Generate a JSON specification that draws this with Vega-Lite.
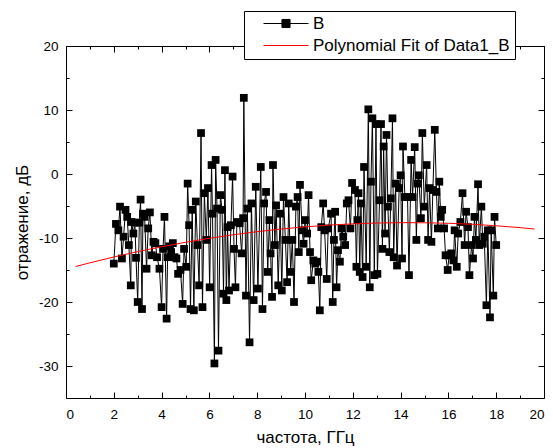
{
  "$schema": "https://vega.github.io/schema/vega-lite/v6.json",
  "width": 478,
  "height": 352,
  "autosize": "none",
  "padding": {"left": 66, "top": 46, "right": 9, "bottom": 50},
  "background": "white",
  "config": {
    "view": {"stroke": null},
    "font": "Liberation Sans",
    "axis": {
      "labelFont": "Liberation Sans", "labelFontSize": 13.5, "labelColor": "black",
      "titleFont": "Liberation Sans", "titleFontSize": 17, "titleFontWeight": "normal", "titleColor": "black",
      "domainColor": "black", "tickColor": "black", "grid": false, "tickWidth": 1, "domainWidth": 1
    }
  },
  "datasets": {
    "meas": [
      {"f":2.00,"r":-14.0},{"f":2.09,"r":-7.8},{"f":2.19,"r":-8.8},{"f":2.26,"r":-5.1},{"f":2.34,"r":-13.2},{"f":2.41,"r":-9.8},{"f":2.49,"r":-5.6},{"f":2.56,"r":-6.7},{"f":2.63,"r":-11.1},{"f":2.71,"r":-17.4},
      {"f":2.74,"r":-7.5},{"f":2.82,"r":-9.3},{"f":2.88,"r":-7.6},{"f":2.93,"r":-13.1},{"f":3.00,"r":-20.0},{"f":3.07,"r":-7.6},{"f":3.12,"r":-4.0},{"f":3.18,"r":-21.1},{"f":3.22,"r":-6.2},{"f":3.29,"r":-6.7},
      {"f":3.37,"r":-14.8},{"f":3.44,"r":-8.5},{"f":3.51,"r":-6.0},{"f":3.59,"r":-12.7},{"f":3.66,"r":-10.6},{"f":3.74,"r":-10.8},{"f":3.81,"r":-13.0},{"f":3.91,"r":-14.8},{"f":4.00,"r":-20.8},{"f":4.06,"r":-11.7},
      {"f":4.12,"r":-6.7},{"f":4.21,"r":-22.6},{"f":4.25,"r":-13.0},{"f":4.32,"r":-11.3},{"f":4.40,"r":-12.2},{"f":4.47,"r":-10.8},{"f":4.54,"r":-13.0},{"f":4.62,"r":-13.2},{"f":4.69,"r":-15.6},{"f":4.79,"r":-15.0},
      {"f":4.88,"r":-20.3},{"f":4.94,"r":-11.7},{"f":5.03,"r":-14.5},{"f":5.09,"r":-1.5},{"f":5.15,"r":-8.0},{"f":5.21,"r":-21.1},{"f":5.28,"r":-5.6},{"f":5.35,"r":-21.3},{"f":5.43,"r":-4.3},{"f":5.50,"r":-11.1},
      {"f":5.57,"r":-17.4},{"f":5.65,"r":6.4},{"f":5.71,"r":-20.8},{"f":5.79,"r":-3.0},{"f":5.87,"r":-10.3},{"f":5.94,"r":-2.2},{"f":6.01,"r":-17.7},{"f":6.09,"r":1.4},{"f":6.13,"r":-6.2},{"f":6.21,"r":-29.6},
      {"f":6.26,"r":2.2},{"f":6.32,"r":-5.4},{"f":6.38,"r":-27.6},{"f":6.46,"r":-3.3},{"f":6.53,"r":-5.6},{"f":6.59,"r":-18.7},{"f":6.65,"r":0.6},{"f":6.71,"r":-19.7},{"f":6.76,"r":-8.3},{"f":6.82,"r":-18.2},
      {"f":6.90,"r":-8.0},{"f":6.97,"r":-0.4},{"f":7.03,"r":-11.7},{"f":7.09,"r":-17.7},{"f":7.15,"r":-7.5},{"f":7.26,"r":-7.7},{"f":7.35,"r":-12.4},{"f":7.41,"r":-6.9},{"f":7.44,"r":11.9},{"f":7.53,"r":-19.0},
      {"f":7.59,"r":-5.4},{"f":7.68,"r":-26.3},{"f":7.76,"r":-4.6},{"f":7.85,"r":-19.7},{"f":7.94,"r":-2.0},{"f":8.03,"r":-17.9},{"f":8.15,"r":1.1},{"f":8.22,"r":-21.1},{"f":8.29,"r":-4.6},{"f":8.37,"r":-2.8},
      {"f":8.44,"r":-15.3},{"f":8.51,"r":-7.2},{"f":8.56,"r":-12.4},{"f":8.62,"r":-19.2},{"f":8.66,"r":1.4},{"f":8.74,"r":-11.1},{"f":8.79,"r":-4.9},{"f":8.88,"r":-17.4},{"f":8.96,"r":-6.2},{"f":9.03,"r":-18.2},
      {"f":9.10,"r":-3.6},{"f":9.18,"r":-10.3},{"f":9.25,"r":-16.9},{"f":9.32,"r":-4.6},{"f":9.40,"r":-15.3},{"f":9.47,"r":-10.3},{"f":9.54,"r":-20.0},{"f":9.62,"r":-5.1},{"f":9.69,"r":-3.6},{"f":9.74,"r":-12.2},
      {"f":9.79,"r":-1.7},{"f":9.88,"r":-8.8},{"f":9.94,"r":-10.9},{"f":10.00,"r":-7.2},{"f":10.09,"r":-9.3},{"f":10.15,"r":-3.3},{"f":10.21,"r":-12.2},{"f":10.26,"r":-16.6},{"f":10.35,"r":-13.5},{"f":10.43,"r":-14.0},
      {"f":10.50,"r":-13.7},{"f":10.56,"r":-15.3},{"f":10.62,"r":-21.3},{"f":10.68,"r":-8.3},{"f":10.76,"r":-4.6},{"f":10.82,"r":-8.8},{"f":10.91,"r":-16.4},{"f":10.97,"r":-8.5},{"f":11.09,"r":-6.2},{"f":11.16,"r":-20.0},
      {"f":11.21,"r":-10.3},{"f":11.26,"r":-5.9},{"f":11.32,"r":-17.7},{"f":11.38,"r":-11.9},{"f":11.46,"r":-13.7},{"f":11.53,"r":-8.5},{"f":11.60,"r":-9.8},{"f":11.68,"r":-11.1},{"f":11.75,"r":-4.6},{"f":11.82,"r":-4.1},
      {"f":11.90,"r":-8.5},{"f":11.97,"r":-1.4},{"f":12.09,"r":-2.5},{"f":12.15,"r":-14.5},{"f":12.19,"r":-7.2},{"f":12.24,"r":-3.0},{"f":12.29,"r":-15.3},{"f":12.34,"r":-4.6},{"f":12.41,"r":-16.1},{"f":12.47,"r":1.1},
      {"f":12.56,"r":-14.5},{"f":12.65,"r":10.1},{"f":12.71,"r":-17.7},{"f":12.76,"r":-1.2},{"f":12.82,"r":8.7},{"f":12.90,"r":-15.8},{"f":12.97,"r":7.8},{"f":13.03,"r":-15.6},{"f":13.12,"r":-4.1},{"f":13.18,"r":7.8},
      {"f":13.24,"r":-11.7},{"f":13.29,"r":4.3},{"f":13.35,"r":-9.3},{"f":13.41,"r":6.1},{"f":13.47,"r":-5.1},{"f":13.53,"r":-12.2},{"f":13.59,"r":-3.8},{"f":13.66,"r":8.7},{"f":13.71,"r":-13.0},{"f":13.79,"r":-1.5},
      {"f":13.85,"r":-14.3},{"f":13.94,"r":-2.2},{"f":14.00,"r":-0.2},{"f":14.06,"r":-13.2},{"f":14.10,"r":4.3},{"f":14.18,"r":-3.6},{"f":14.29,"r":-3.6},{"f":14.35,"r":-15.8},{"f":14.44,"r":2.2},{"f":14.50,"r":-3.6},
      {"f":14.59,"r":4.2},{"f":14.66,"r":-10.3},{"f":14.71,"r":-1.5},{"f":14.76,"r":-0.2},{"f":14.85,"r":-6.9},{"f":14.91,"r":6.4},{"f":14.99,"r":-5.1},{"f":15.09,"r":1.4},{"f":15.15,"r":-10.3},{"f":15.21,"r":-2.2},
      {"f":15.29,"r":-10.6},{"f":15.35,"r":-2.5},{"f":15.43,"r":6.9},{"f":15.50,"r":-2.8},{"f":15.56,"r":-8.5},{"f":15.62,"r":-1.2},{"f":15.68,"r":-6.7},{"f":15.74,"r":-5.6},{"f":15.82,"r":-8.5},{"f":15.88,"r":-12.7},
      {"f":15.97,"r":-15.0},{"f":16.03,"r":-12.7},{"f":16.12,"r":-12.4},{"f":16.21,"r":-13.5},{"f":16.26,"r":-8.8},{"f":16.35,"r":-14.5},{"f":16.41,"r":-9.3},{"f":16.50,"r":-7.5},{"f":16.59,"r":-3.0},{"f":16.68,"r":-11.1},
      {"f":16.74,"r":-5.9},{"f":16.82,"r":-8.3},{"f":16.88,"r":-15.8},{"f":16.97,"r":-11.1},{"f":17.03,"r":-13.2},{"f":17.09,"r":-6.7},{"f":17.15,"r":-10.3},{"f":17.24,"r":-1.6},{"f":17.29,"r":-11.1},{"f":17.38,"r":-5.1},
      {"f":17.44,"r":-10.9},{"f":17.50,"r":-9.8},{"f":17.59,"r":-20.5},{"f":17.65,"r":-8.8},{"f":17.74,"r":-22.4},{"f":17.79,"r":-8.8},{"f":17.88,"r":-19.0},{"f":17.93,"r":-6.7},{"f":18.00,"r":-11.1}
    ],
    "fit": [
      {"f":0.4,"r":-14.46},{"f":1,"r":-13.88},{"f":2,"r":-12.97},{"f":3,"r":-12.13},{"f":4,"r":-11.37},{"f":5,"r":-10.67},{"f":6,"r":-10.05},{"f":7,"r":-9.49},{"f":8,"r":-9.01},{"f":9,"r":-8.60},{"f":10,"r":-8.26},
      {"f":11,"r":-7.99},{"f":12,"r":-7.79},{"f":13,"r":-7.66},{"f":14,"r":-7.60},{"f":15,"r":-7.62},{"f":16,"r":-7.70},{"f":17,"r":-7.86},{"f":18,"r":-8.09},{"f":19,"r":-8.38},{"f":19.6,"r":-8.60}
    ]
  },
  "layer": [
    {
      "data": {"name": "meas"},
      "mark": {"type": "line", "strokeWidth": 1},
      "encoding": {
        "x": {"field": "f", "type": "quantitative", "scale": {"domain": [0, 20], "nice": false, "zero": false},
          "axis": {"orient": "bottom", "values": [0,2,4,6,8,10,12,14,16,18,20], "tickSize": -6, "labelPadding": 15, "labelExpr": "'' + datum.value", "title": "частота, ГГц", "titleY": 39, "titleBaseline": "middle"}},
        "y": {"field": "r", "type": "quantitative", "scale": {"domain": [-35, 20], "nice": false, "zero": false},
          "axis": {"orient": "left", "values": [-30,-20,-10,0,10,20], "tickSize": -6, "labelPadding": 14, "labelExpr": "'' + datum.value", "title": "отражение, дБ", "titleX": -44, "titleBaseline": "middle"}},
        "color": {"datum": "B", "type": "nominal",
          "scale": {"domain": ["B", "Polynomial Fit of Data1_B"], "range": ["black", "red"]},
          "legend": {
            "title": null, "orient": "none", "legendX": 178, "legendY": -35,
            "fillColor": "white", "strokeColor": "black", "padding": 5,
            "symbolSize": 2025, "symbolStrokeWidth": 1, "clipHeight": 15, "rowPadding": 4,
            "symbolOffset": 14, "labelOffset": 4,
            "labelFont": "Liberation Sans", "labelFontSize": 17, "labelColor": "black", "labelLimit": 400,
            "labelExpr": "datum.label + '\u00a0\u00a0\u00a0'",
            "encode": {"symbols": {"update": {
              "shape": {"signal": "datum.value === 'B' ? 'M-1,0H1M-0.18,-0.18H0.18V0.18H-0.18Z' : 'M-1,0H1'"},
              "fill": {"signal": "datum.value === 'B' ? 'black' : 'transparent'"},
              "stroke": {"signal": "datum.value === 'B' ? 'black' : 'red'"},
              "strokeWidth": {"value": 1}
            }}}
          }}
      }
    },
    {
      "data": {"name": "meas"},
      "mark": {"type": "point", "shape": "square", "filled": true, "size": 60, "color": "black", "opacity": 1},
      "encoding": {
        "x": {"field": "f", "type": "quantitative",
          "axis": {"orient": "top", "values": [0,2,4,6,8,10,12,14,16,18,20], "tickSize": -6, "labels": false, "title": null}},
        "y": {"field": "r", "type": "quantitative",
          "axis": {"orient": "right", "values": [-30,-20,-10,0,10,20], "tickSize": -6, "labels": false, "title": null}}
      }
    },
    {
      "data": {"name": "fit"},
      "mark": {"type": "line", "strokeWidth": 1},
      "encoding": {
        "x": {"field": "f", "type": "quantitative",
          "axis": {"orient": "bottom", "values": [1,3,5,7,9,11,13,15,17,19], "tickSize": -3, "labels": false, "domain": false, "title": null}},
        "y": {"field": "r", "type": "quantitative",
          "axis": {"orient": "left", "values": [-25,-15,-5,5,15], "tickSize": -3, "labels": false, "domain": false, "title": null}},
        "color": {"datum": "Polynomial Fit of Data1_B", "type": "nominal"}
      }
    },
    {
      "data": {"name": "fit"},
      "mark": {"type": "line", "strokeWidth": 1, "strokeOpacity": 0},
      "encoding": {
        "x": {"field": "f", "type": "quantitative",
          "axis": {"orient": "top", "values": [1,3,5,7,9,11,13,15,17,19], "tickSize": -3, "labels": false, "domain": false, "title": null}},
        "y": {"field": "r", "type": "quantitative",
          "axis": {"orient": "right", "values": [-25,-15,-5,5,15], "tickSize": -3, "labels": false, "domain": false, "title": null}}
      }
    }
  ],
  "resolve": {"axis": {"x": "independent", "y": "independent"}}
}
